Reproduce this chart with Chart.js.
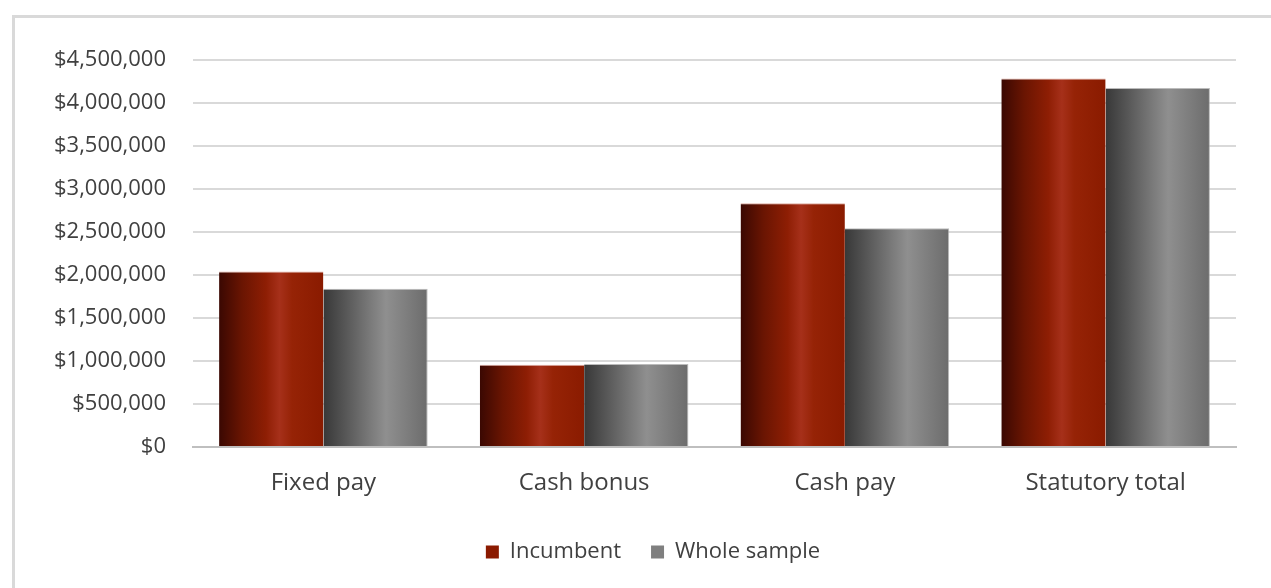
<!DOCTYPE html>
<html>
<head>
<meta charset="utf-8">
<title>Remuneration comparison</title>
<script src="https://cdn.jsdelivr.net/npm/chart.js@4.4.1/dist/chart.umd.min.js"></script>
<style>
  html, body { margin: 0; padding: 0; background: #fff; }
  #wrap { position: relative; width: 1271px; height: 588px; overflow: hidden; }
  #frame {
    position: absolute; left: 12px; top: 15px; width: 1400px; height: 700px;
    border-left: 3px solid #d9d9d9; border-top: 3px solid #d9d9d9;
  }
  #chart { position: absolute; left: 0; top: 0; }
</style>
</head>
<body>
<div id="wrap">
  <div id="frame"></div>
  <canvas id="chart" width="1271" height="588"></canvas>
</div>
<script>
// ---- data ----
const categories = ['Fixed pay', 'Cash bonus', 'Cash pay', 'Statutory total'];
const incumbent = [2040000, 955000, 2835000, 4285000];
const wholeSample = [1840000, 965000, 2545000, 4175000];
const seriesNames = ['Incumbent', 'Whole sample'];

const Y_MAX = 4500000;
const Y_STEP = 500000;

const FONT = "'Open Sans', 'Noto Sans', sans-serif";
const TEXT = '#404040';

// cylinder-like horizontal shading for each series
const SHADES = [
  [[0, '#3a0802'], [0.22, '#6a1502'], [0.45, '#8e1e04'], [0.58, '#a6301a'], [0.7, '#962306'], [1, '#8a1b00']],
  [[0, '#383838'], [0.22, '#585858'], [0.45, '#7a7a7a'], [0.6, '#8f8f8f'], [0.75, '#828282'], [1, '#6c6c6c']]
];
const FLAT = ['#8b1a00', '#7f7f7f'];

const CAT_PCT = 0.8;

// builds the gradient from where the bar sits on the category scale
function barFill(ctx) {
  const chart = ctx.chart;
  const xs = chart.scales.x;
  const ds = ctx.datasetIndex;
  if (!xs || ctx.type !== 'data' || !chart.chartArea) return FLAT[ds];
  const catW = xs.width / categories.length;
  const barW = catW * CAT_PCT / 2;
  const left = xs.getPixelForValue(ctx.dataIndex) - catW * CAT_PCT / 2 + ds * barW;
  const g = chart.ctx.createLinearGradient(left, 0, left + barW, 0);
  SHADES[ds].forEach(([o, c]) => g.addColorStop(o, c));
  return g;
}

const money = v => '$' + Number(v).toLocaleString('en-US');

new Chart(document.getElementById('chart'), {
  type: 'bar',
  data: {
    labels: categories,
    datasets: [
      { label: seriesNames[0], data: incumbent, backgroundColor: barFill,
        borderColor: 'rgba(190,90,70,0.5)', borderWidth: { top: 1, left: 0, right: 0, bottom: 0 } },
      { label: seriesNames[1], data: wholeSample, backgroundColor: barFill,
        borderColor: 'rgba(170,170,170,0.8)', borderWidth: { top: 1, left: 0, right: 1, bottom: 0 } }
    ]
  },
  options: {
    responsive: false,
    animation: false,
    devicePixelRatio: 1,
    layout: { padding: { left: 40, right: 5, top: 60, bottom: 15 } },
    datasets: { bar: { categoryPercentage: CAT_PCT, barPercentage: 1.0 } },
    plugins: {
      tooltip: { enabled: false },
      legend: {
        position: 'bottom',
        labels: {
          color: TEXT,
          font: { family: FONT, size: 22 },
          boxWidth: 13,
          boxHeight: 13,
          padding: 30,
          generateLabels: chart => seriesNames.map((name, i) => ({
            text: name,
            fillStyle: FLAT[i],
            strokeStyle: FLAT[i],
            lineWidth: 0,
            fontColor: TEXT,
            datasetIndex: i
          }))
        }
      }
    },
    scales: {
      x: {
        grid: { display: false, drawTicks: false },
        border: { display: true, color: '#bfbfbf', width: 2 },
        ticks: { color: TEXT, font: { family: FONT, size: 24 }, padding: 22, maxRotation: 0 },
        afterFit: s => { s.height = 64; }
      },
      y: {
        min: 0,
        max: Y_MAX,
        grid: { color: '#d9d9d9', lineWidth: 2, drawTicks: false },
        border: { display: false },
        ticks: {
          stepSize: Y_STEP,
          color: TEXT,
          font: { family: FONT, size: 22 },
          padding: 27,
          callback: v => money(v)
        },
        afterFit: s => { s.width = 153; }
      },
      // empty right-hand gutter, keeps the plot clear of the edge
      gutter: {
        position: 'right',
        min: 0,
        max: Y_MAX,
        grid: { display: false, drawTicks: false },
        border: { display: false },
        ticks: { display: false },
        afterFit: s => { s.width = 30; }
      }
    }
  }
});
</script>
</body>
</html>
